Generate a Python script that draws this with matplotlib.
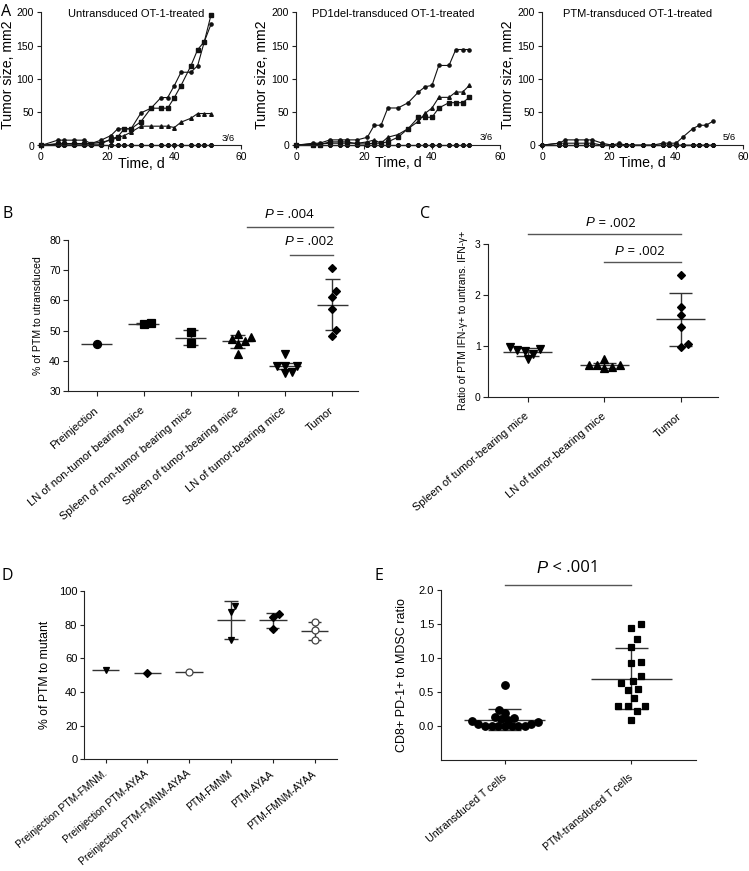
import numpy as np
import matplotlib
matplotlib.use("Agg")
import matplotlib.pyplot as plt

plt.rcParams['font.family'] = ['Liberation Sans', 'DejaVu Sans']

# ---------------- data ----------------
days = [0, 5, 7, 10, 13, 15, 18, 21, 23, 25, 27, 30, 33, 36, 38, 40, 42, 45, 47, 49, 51]

a1_square = [0, 2, 2, 2, 2, 2, 2, 10, 13, 25, 25, 36, 56, 56, 56, 72, 90, 120, 144, 156, 196]
a1_dot = [0, 8, 8, 8, 8, 3, 8, 15, 25, 25, 25, 49, 56, 72, 72, 90, 110, 110, 120, 156, 182]
a1_tri = [0, 3, 3, 3, 3, 3, 5, 8, 12, 15, 20, 29, 29, 29, 29, 27, 35, 41, 48, 48, 48]
zero_curve = [0, 0, 0, 0, 0, 0, 0, 0, 0, 0, 0, 0, 0, 0, 0, 0, 0, 0, 0, 0, 0]

a2_circle = [0, 3, 3, 8, 8, 8, 8, 12, 30, 30, 56, 56, 64, 80, 88, 90, 120, 120, 144, 144, 144]
a2_tri = [0, 2, 2, 3, 3, 3, 3, 5, 8, 3, 12, 16, 25, 36, 48, 56, 72, 72, 80, 80, 90]
a2_square = [0, 1, 1, 5, 5, 5, 2, 2, 3, 3, 5, 12, 25, 42, 42, 42, 56, 64, 64, 64, 72]

a3_grow = [0, 3, 8, 8, 8, 8, 3, 0, 3, 0, 0, 0, 0, 3, 3, 3, 12, 25, 30, 30, 36]
a3_bump = [0, 3, 3, 3, 3, 3, 0, 0, 0, 0, 0, 0, 0, 0, 0, 0, 0, 0, 0, 0, 0]

a_titles = ["Untransduced OT-1-treated", "PD1del-transduced OT-1-treated", "PTM-transduced OT-1-treated"]
a_fractions = ["3/6", "3/6", "5/6"]

b_labels = ["Preinjection", "LN of non-tumor bearing mice", "Spleen of non-tumor bearing mice",
            "Spleen of tumor-bearing mice", "LN of tumor-bearing mice", "Tumor"]
b_values = [
    [45.5],
    [52.2, 52.5],
    [49.4, 45.8],
    [48.0, 48.9, 46.4, 45.6, 47.2, 42.4],
    [42.4, 38.4, 38.4, 38.4, 35.9, 36.4],
    [70.8, 63.2, 61.0, 57.2, 50.3, 48.1],
]
b_means = [45.5, 52.3, 47.7, 46.4, 38.2, 58.5]
b_sds = [0, 0.2, 2.5, 2.3, 1.05, 8.45]

c_labels = ["Spleen of tumor-bearing mice", "LN of tumor-bearing mice", "Tumor"]
c_values = [
    [0.89, 0.97, 0.85, 0.93, 0.91, 0.74],
    [0.62, 0.62, 0.56, 0.59, 0.62, 0.74],
    [2.40, 1.77, 1.61, 1.38, 1.03, 0.97],
]
c_means = [0.875, 0.62, 1.52]
c_sds = [0.075, 0.05, 0.53]

d_labels = ["Preinjection PTM-FMNM.", "Preinjection PTM-AYAA", "Preinjection PTM-FMNM-AYAA",
            "PTM-FMNM", "PTM-AYAA", "PTM-FMNM-AYAA"]
d_values = [
    [53.1],
    [51.5],
    [52.1],
    [91.1, 87.7, 70.9],
    [86.1, 84.8, 77.4],
    [81.4, 76.8, 70.9],
]
d_means = [52.9, 51.5, 52.1, 82.8, 82.6, 76.4]
d_sds = [0, 0, 0, 11.1, 4.5, 5.35]

e_labels = ["Untransduced T cells", "PTM-transduced T cells"]
e_values = [
    [0.12, 0.09, 0.06, 0.03, 0, 0, 0, 0, 0, 0, 0, 0.03, 0.07, 0.11, 0.13, 0.60, 0.24, 0.19],
    [1.50, 1.45, 1.28, 1.16, 0.93, 0.94, 0.74, 0.64, 0.66, 0.53, 0.54, 0.41, 0.295, 0.29,
     0.30, 0.216, 0.089],
]
e_means = [0.093, 0.70]
e_sds = [0.153, 0.445]

# ---------------- figure ----------------
W, H = 749, 871
fig = plt.figure(figsize=(W / 100, H / 100), dpi=100)
LC = '#333333'
PFONT = 'Open Sans'
ROT = 40


def add_ax(l, r, t, b):
    return fig.add_axes([l / W, 1 - b / H, (r - l) / W, (b - t) / H])


def prism(ax, labelsize=7.5, length=3):
    for s in ['top', 'right']:
        ax.spines[s].set_visible(False)
    for s in ['left', 'bottom']:
        ax.spines[s].set_linewidth(0.8)
        ax.spines[s].set_color('#222222')
    ax.tick_params(direction='out', length=length, width=0.8, labelsize=labelsize, pad=2,
                   color='#222222')


def panel_letter(x, y, s):
    fig.text(x / W, 1 - y / H, s, ha='left', va='center', fontsize=11.5, family=PFONT)


def swarm(ax, x0, vals, d):
    vals = np.asarray(vals, dtype=float)
    tr = ax.transData
    ys = tr.transform(np.column_stack([np.full(len(vals), x0), vals]))[:, 1]
    pxx = tr.transform([(1, 0)])[0, 0] - tr.transform([(0, 0)])[0, 0]
    order = np.argsort(vals, kind='stable')
    placed = []
    off = np.zeros(len(vals))
    for i in order:
        y = ys[i]
        cands = [0.0]
        for (px, py) in placed:
            dy = abs(py - y)
            if dy < d:
                dx = np.sqrt(d * d - dy * dy)
                cands += [px + dx, px - dx]
        ok = [c for c in cands
              if all((c - px) ** 2 + (y - py) ** 2 >= d * d - 1e-6 for px, py in placed)]
        best = min(ok, key=lambda c: (round(abs(c), 6), -c))
        placed.append((best, y))
        off[i] = best
    return off / pxx


def dot_panel(ax, values, means, sds, markers, sizes, fills, dists, half=0.33, cap=0.16):
    for i, vals in enumerate(values):
        offs = swarm(ax, i, vals, dists[i])
        ax.plot(i + offs, vals, linestyle='none', marker=markers[i], ms=sizes[i],
                mfc=fills[i], mec='black' if fills[i] == 'black' else '#444444',
                mew=0.9, clip_on=False, zorder=3)
        ax.hlines(means[i], i - half, i + half, color=LC, lw=1.0, zorder=2)
        if sds[i] > 0:
            lo, hi = means[i] - sds[i], means[i] + sds[i]
            ax.vlines(i, lo, hi, color=LC, lw=1.0, zorder=2)
            ax.hlines([lo, hi], i - cap, i + cap, color=LC, lw=1.0, zorder=2)


def p_text(ax, x, y, rest, size):
    t1 = ax.text(x, y, 'P', ha='left', va='center', fontsize=size, style='italic',
                 family='Liberation Sans', clip_on=False)
    ax.annotate(rest, xy=(1, 0.5), xycoords=t1, ha='left', va='center', fontsize=size,
                family=PFONT, annotation_clip=False)


def p_line(ax, x0, x1, y):
    ax.plot([x0, x1], [y, y], color='#555555', lw=1.0, clip_on=False)


def rot_labels(ax, labels, size, pad):
    ax.set_xticks(range(len(labels)))
    ax.set_xticklabels(labels, rotation=ROT, ha='right', va='center', rotation_mode='anchor',
                       fontsize=size)
    ax.tick_params(axis='x', pad=pad)


# ---------------- panel A ----------------
a_boxes = [(41, 241, 12.3, 145.5), (296, 500, 12.3, 145.2), (542, 743, 12.3, 145.2)]
a_series = [
    [(a1_square, 's'), (a1_dot, 'o'), (a1_tri, '^'), (zero_curve, 'o'), (zero_curve, 'o'),
     (zero_curve, 'o')],
    [(a2_circle, 'o'), (a2_tri, '^'), (a2_square, 's'), (zero_curve, 'o'), (zero_curve, 'o'),
     (zero_curve, 'o')],
    [(a3_grow, 'o'), (a3_bump, 'o'), (zero_curve, 'o'), (zero_curve, 'o'), (zero_curve, 'o'),
     (zero_curve, 'o')],
]
for k, box in enumerate(a_boxes):
    ax = add_ax(*box)
    prism(ax, labelsize=7.5, length=3)
    ax.set_xlim(0, 60)
    ax.set_ylim(0, 200)
    ax.set_xticks([0, 20, 40, 60])
    ax.set_yticks([0, 50, 100, 150, 200])
    for vals, m in a_series[k]:
        ax.plot(days, vals, color='#111111', lw=0.8, marker=m,
                ms=2.6 if m != 'o' else 2.3, clip_on=False)
    ax.set_xlabel('Time, d', fontsize=10.2)
    ax.set_ylabel('Tumor size, mm2', fontsize=10.2)
    ax.yaxis.set_label_coords(-0.132, 0.53)
    ax.xaxis.set_label_coords(0.5, -0.085)
    ax.text(28.5, 197, a_titles[k], ha='center', va='center', fontsize=8)
    ax.text(56, 11, a_fractions[k], ha='center', va='center', fontsize=6.8)
panel_letter(1, 12.5, 'A')

# ---------------- panel B ----------------
axb = add_ax(68.3, 358, 240, 391)
prism(axb, labelsize=7.5, length=3.5)
axb.set_xlim(-0.6, 5.55)
axb.set_ylim(30, 80)
axb.set_yticks([30, 40, 50, 60, 70, 80])
rot_labels(axb, b_labels, 8, 9.5)
axb.set_ylabel('% of PTM to utransduced', fontsize=7.6, labelpad=4)
dot_panel(axb, b_values, b_means, b_sds, ['o', 's', 's', '^', 'v', 'D'],
          [5.8, 5.3, 5.3, 5.8, 5.8, 4.4],
          ['black'] * 6, dists=[7.5] * 6)
p_line(axb, 3.2, 5.02, 84.2)
p_text(axb, 3.56, 88.3, ' = .004', 9.5)
p_line(axb, 4.1, 5.02, 75.0)
p_text(axb, 3.99, 79.4, ' = .002', 9.5)
panel_letter(3, 214, 'B')

# ---------------- panel C ----------------
axc = add_ax(488.3, 718, 244.3, 396.7)
prism(axc, labelsize=7.5, length=3.5)
axc.set_xlim(-0.515, 2.49)
axc.set_ylim(0, 3)
axc.set_yticks([0, 1, 2, 3])
rot_labels(axc, c_labels, 8, 9.5)
axc.set_ylabel('Ratio of PTM IFN-γ+ to untrans. IFN-γ+', fontsize=7.4, labelpad=5)
dot_panel(axc, c_values, c_means, c_sds, ['v', '^', 'D'], [5.2, 5.2, 4.2],
          ['black'] * 3, dists=[8.0, 8.0, 8.0], half=0.32, cap=0.15)
p_line(axc, 0.0, 2.0, 3.20)
p_text(axc, 0.76, 3.41, ' = .002', 9.5)
p_line(axc, 1.0, 2.0, 2.65)
p_text(axc, 1.14, 2.85, ' = .002', 9.5)
panel_letter(420, 214, 'C')

# ---------------- panel D ----------------
axd = add_ax(84.3, 336.7, 591, 759.3)
prism(axd, labelsize=8, length=3)
axd.set_xlim(-0.51, 5.53)
axd.set_ylim(0, 100)
axd.set_yticks([0, 20, 40, 60, 80, 100])
rot_labels(axd, d_labels, 7.4, 6.5)
axd.set_ylabel('% of PTM to mutant', fontsize=8.8, labelpad=6)
dot_panel(axd, d_values, d_means, d_sds, ['v', 'D', 'o', 'v', 'D', 'o'],
          [5.0, 4.0, 5.0, 5.0, 4.0, 5.0],
          ['black', 'black', 'white', 'black', 'black', 'white'], dists=[7.0] * 6)
panel_letter(1.5, 576, 'D')

# ---------------- panel E ----------------
axe = add_ax(441, 696, 590.4, 760)
prism(axe, labelsize=8, length=3)
axe.set_xlim(-0.505, 1.51)
axe.set_ylim(-0.5, 2.0)
axe.set_yticks([0.0, 0.5, 1.0, 1.5, 2.0])
axe.set_yticklabels(['0.0', '0.5', '1.0', '1.5', '2.0'])
rot_labels(axe, e_labels, 7.7, 8.5)
axe.set_ylabel('CD8+ PD-1+ to MDSC ratio', fontsize=9, labelpad=7.5)
dot_panel(axe, e_values, e_means, e_sds, ['o', 's'], [5.4, 5.0], ['black', 'black'],
          dists=[6.7, 10.0], half=0.32, cap=0.13)
p_line(axe, 0.0, 1.0, 2.08)
p_text(axe, 0.25, 2.33, ' < .001', 12)
panel_letter(375, 576, 'E')

fig.savefig('out.png', dpi=100)
